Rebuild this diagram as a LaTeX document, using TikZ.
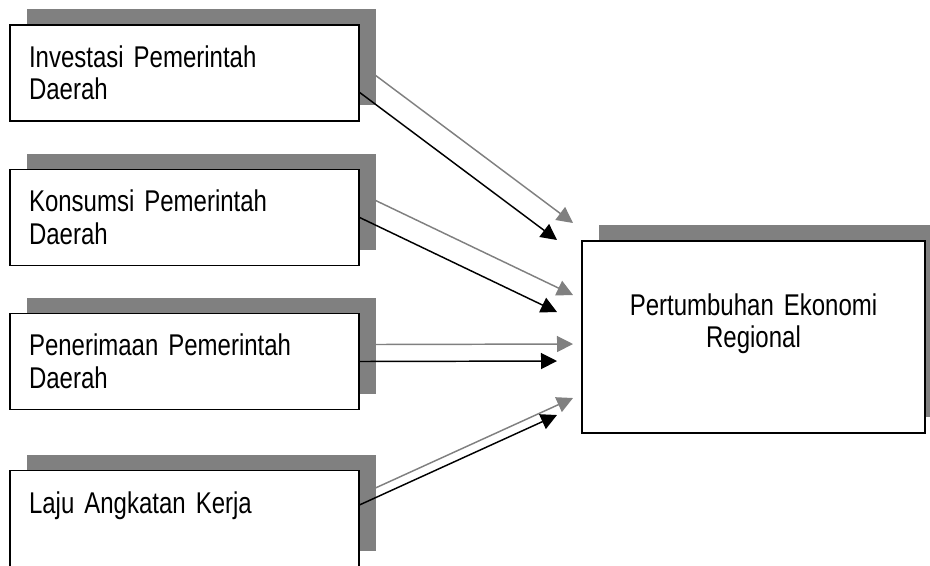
\documentclass[tikz,border=0pt]{standalone}
\usepackage{fontspec}
\setmainfont[FakeStretch=0.8]{Liberation Sans}
\usetikzlibrary{arrows.meta,calc,shadows}
\definecolor{shadowgray}{RGB}{128,128,128}
\DeclareRobustCommand\boxfont{\fontsize{22.5pt}{24.4pt}\selectfont\spaceskip=4.7pt\relax}
\tikzset{
    frame/.style={draw=black,line width=1pt,fill=white,
        drop shadow={shadow xshift=12.4pt,shadow yshift=12pt,fill=shadowgray,opacity=1},
        font=\boxfont},
    inbox/.style={frame,text width=233.25pt,inner xsep=14.25pt,inner ysep=0pt,
        minimum height=72pt,align=left},
    outbox/.style={frame,text width=240pt,inner xsep=8.6pt,inner ysep=0pt,
        minimum height=144pt,align=center},
    link/.style={line width=1.1pt,-{Triangle[length=12pt,width=12pt]}}
}
\begin{document}
\begin{tikzpicture}[x=0.75pt,y=-0.75pt]
    \useasboundingbox (0,0) rectangle (930,565);
    % boxes
    \node[inbox] (inv) at (184.5,73) {Investasi Pemerintah\\Daerah};
    \node[inbox] (kon) at (184.5,217.5) {Konsumsi Pemerintah\\Daerah};
    \node[inbox] (pen) at (184.5,361.5) {Penerimaan Pemerintah\\Daerah};
    \node[inbox] (laju) at (184.5,518.5) {Laju Angkatan Kerja\\\mbox{}};
    \node[outbox] (tumbuh) at (753.5,337) {Pertumbuhan Ekonomi\\Regional\\\mbox{}};
    % arrow tips
    \coordinate (t1) at (557,240);
    \coordinate (t2) at (557,312);
    \coordinate (t3) at (557,361);
    \coordinate (t4) at (557,415);
    % arrows with their grey copies
    \foreach \src/\pos/\tip in {inv/0.3/t1,kon/0.5/t2,pen/0.5/t3,laju/0.64/t4}
        {
            \coordinate (s) at ($(\src.south east)!\pos!(\src.north east)$);
            \draw[link,shadowgray]([shift={(16,-17)}]s)--([shift={(16,-17)}]\tip);
            \draw[link](s)--(\tip);
        }
\end{tikzpicture}
\end{document}
